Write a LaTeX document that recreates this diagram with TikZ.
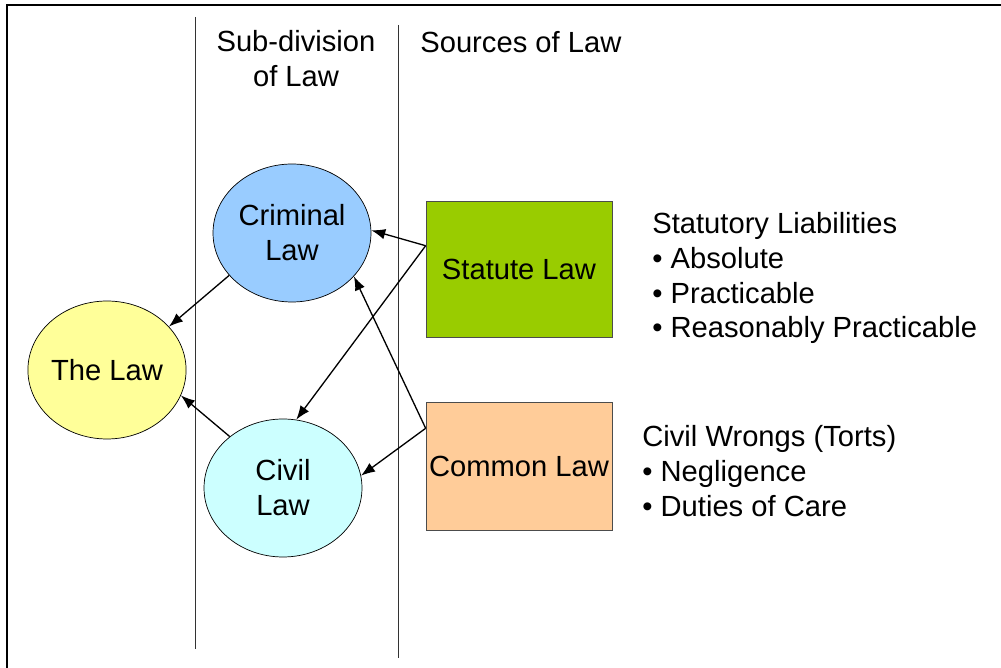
\documentclass[tikz,border=0pt]{standalone}
\usepackage{fontspec}
\setmainfont{Liberation Sans}
\usetikzlibrary{shapes.geometric, arrows.meta}

\definecolor{crimblue}{HTML}{99CCFF}
\definecolor{lawyellow}{HTML}{FFFF99}
\definecolor{civilcyan}{HTML}{CCFFFF}
\definecolor{statgreen}{HTML}{99CC00}
\definecolor{commonorange}{HTML}{FFCC99}

\tikzset{
  lawell/.style={ellipse, draw, inner sep=0pt, minimum width=3.16cm, minimum height=2.76cm, align=center},
  srcbox/.style={draw=black!70, inner sep=0pt, minimum width=3.72cm, align=center},
  link/.style={-{Latex[length=2.8mm,width=2.1mm]}, line width=0.75pt},
  divider/.style={draw=black!80, line width=0.5pt},
  plain/.style={inner sep=0pt, align=left}
}

\begin{document}
\begin{tikzpicture}[x=0.02cm, y=-0.02cm, font=\fontsize{16.6}{19.9}\selectfont]
    \useasboundingbox (0,0) rectangle (1001,668);
    % frame and column lines
    \draw[line width=1.1pt] (7,672) -- (7,5) -- (1005,5);
    \draw[divider] (195,17) -- (195,649);
    \draw[divider] (398,25) -- (398,658);

    % headings
    \node[plain, align=center] (subdiv) at (296,59) {Sub-division\\of Law};
    \node[plain, anchor=west] (sources) at (420,42) {Sources of Law};

    % law circles
    \node[lawell, fill=crimblue] (crim) at (292,233) {Criminal\\Law};
    \node[lawell, fill=lawyellow] (thelaw) at (107,370) {The Law};
    \node[lawell, fill=civilcyan] (civil) at (283,488) {Civil\\Law};

    % sources
    \node[srcbox, fill=statgreen, minimum height=2.72cm] (statute) at (519,269) {Statute Law};
    \node[srcbox, fill=commonorange, minimum height=2.56cm] (common) at (519,466) {Common Law};

    \node[plain, anchor=west] (statlist) at (652,278) {Statutory Liabilities\\• Absolute\\• Practicable\\• Reasonably Practicable};
    \node[plain, anchor=west] (tortlist) at (642,471) {Civil Wrongs (Torts)\\• Negligence\\• Duties of Care};

    % arrows
    \draw[link] (statute.166) -- (crim.2);
    \draw[link] (statute.166) -- (civil.79);
    \draw[link] (common.158) -- (crim.-35);
    \draw[link] (common.158) -- (civil.9);
    \draw[link] (crim.214) -- (thelaw.35);
    \draw[link] (civil.136) -- (thelaw.-19);
\end{tikzpicture}
\end{document}
